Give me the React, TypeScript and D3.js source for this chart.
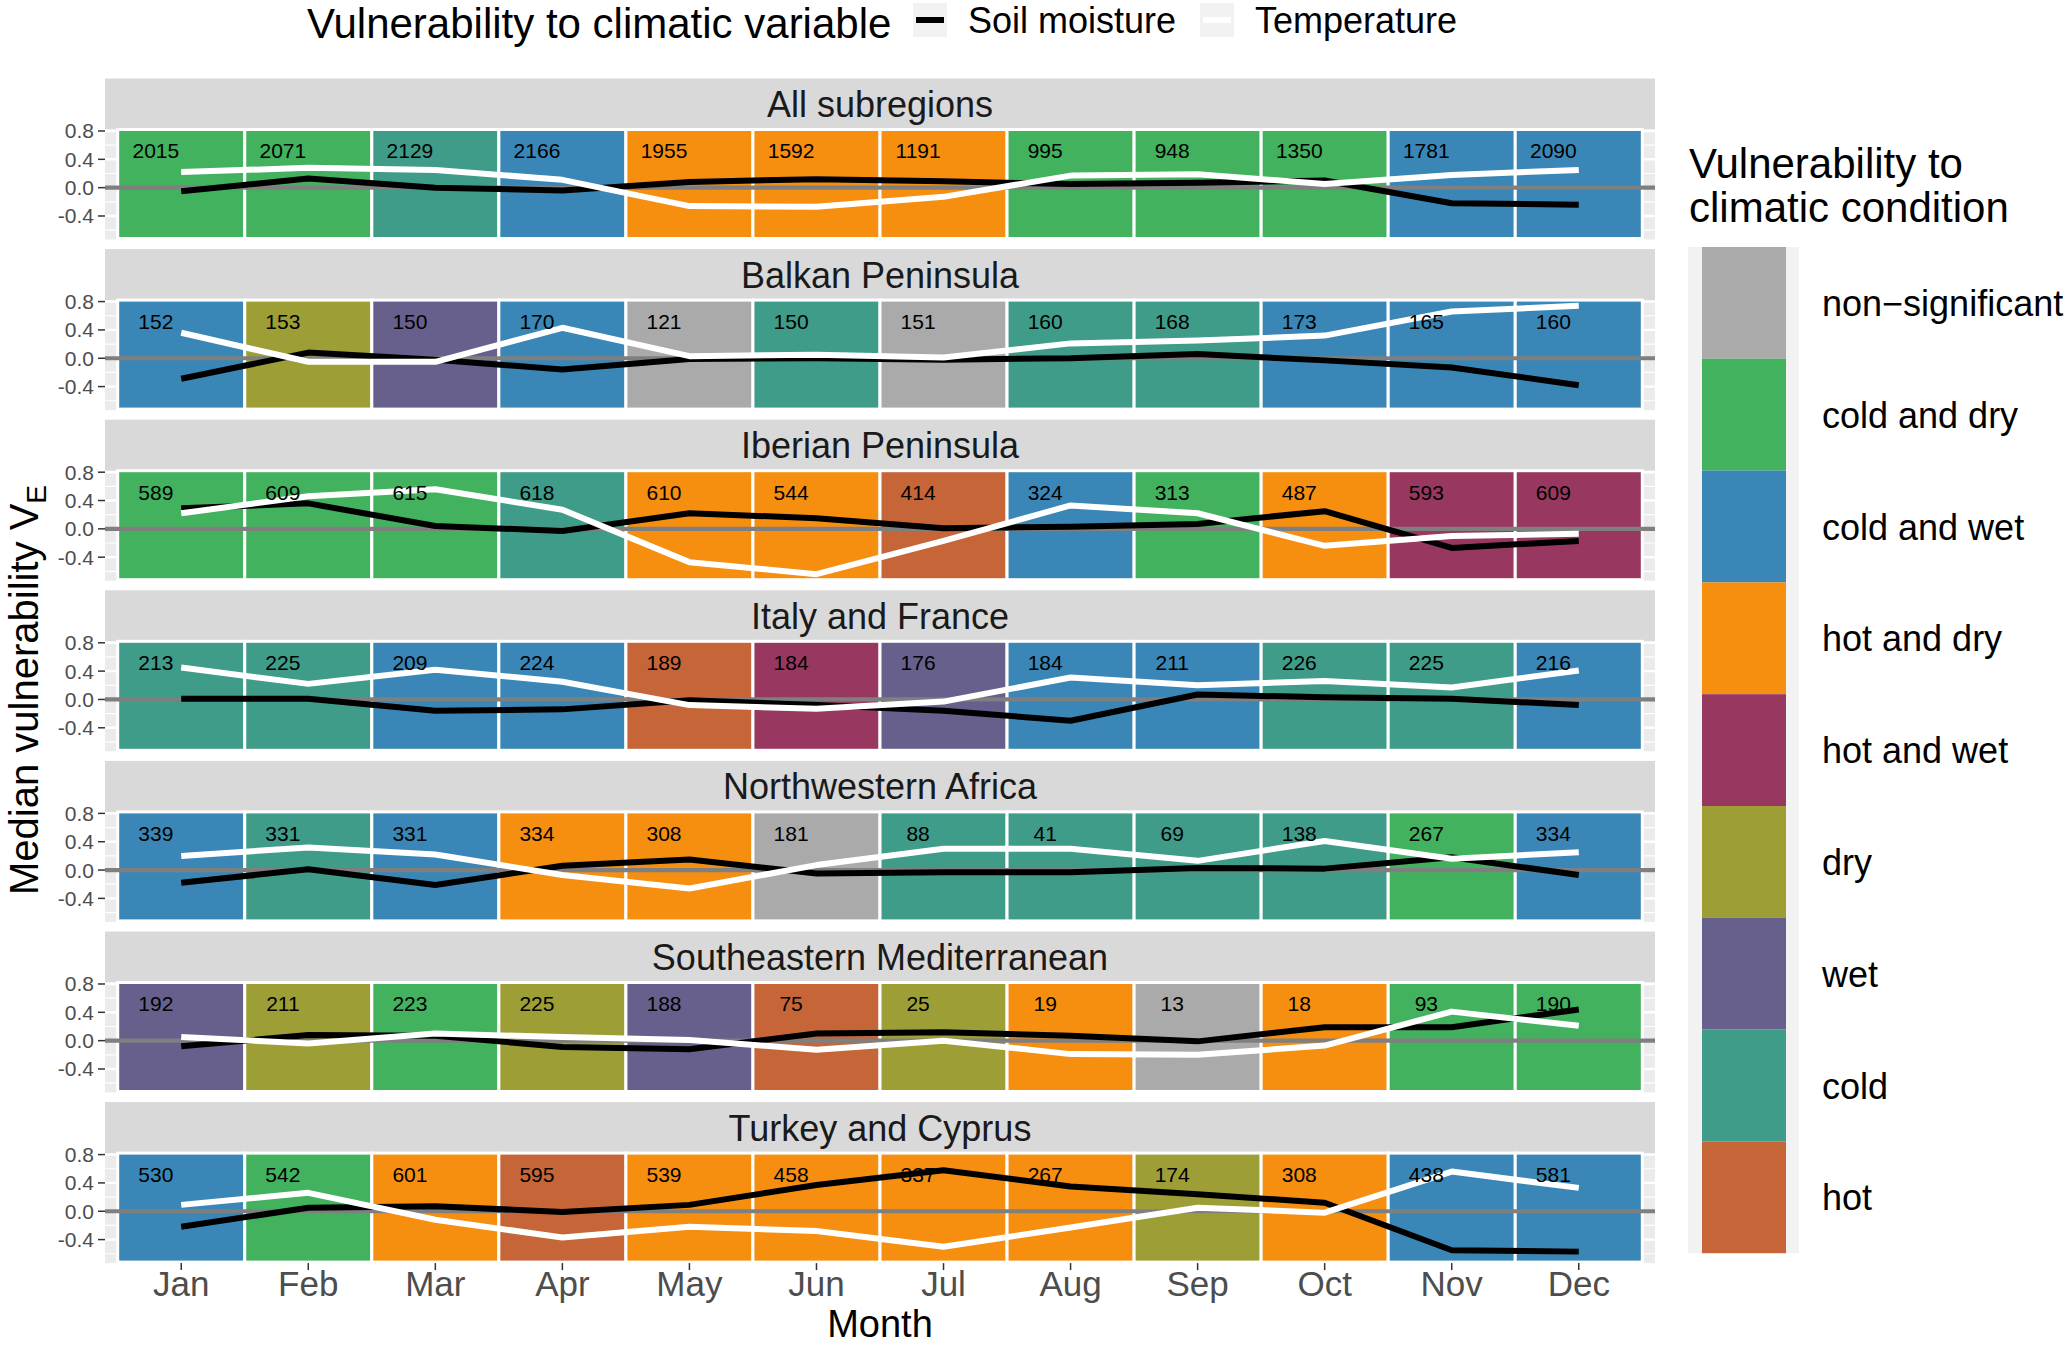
import * as d3 from "d3"

// Months and regions
const months = ["Jan", "Feb", "Mar", "Apr", "May", "Jun", "Jul", "Aug", "Sep", "Oct", "Nov", "Dec"]
const regions = [
  "All subregions",
  "Balkan Peninsula",
  "Iberian Peninsula",
  "Italy and France",
  "Northwestern Africa",
  "Southeastern Mediterranean",
  "Turkey and Cyprus",
]

// Climatic condition categories (legend order)
const conditionCodes = ["NS", "CD", "CW", "HD", "HW", "D", "W", "C", "H"]
const conditionLabels = [
  "non\u2212significant",
  "cold and dry",
  "cold and wet",
  "hot and dry",
  "hot and wet",
  "dry",
  "wet",
  "cold",
  "hot",
]
const conditionColors = ["#aaaaaa", "#43b25e", "#3a87b7", "#f68e10", "#983861", "#9d9f36", "#67608c", "#3f9c89", "#c66537"]

// Dominant condition per month, one row per region
const tileConditions = [
  ["CD", "CD", "C", "CW", "HD", "HD", "HD", "CD", "CD", "CD", "CW", "CW"],
  ["CW", "D", "W", "CW", "NS", "C", "NS", "C", "C", "CW", "CW", "CW"],
  ["CD", "CD", "CD", "C", "HD", "HD", "H", "CW", "CD", "HD", "HW", "HW"],
  ["C", "C", "CW", "CW", "H", "HW", "W", "CW", "CW", "C", "C", "CW"],
  ["CW", "C", "CW", "HD", "HD", "NS", "C", "C", "C", "C", "CD", "CW"],
  ["W", "D", "CD", "D", "W", "H", "D", "HD", "NS", "HD", "CD", "CD"],
  ["CW", "CD", "HD", "H", "HD", "HD", "HD", "HD", "D", "HD", "CW", "CW"],
]

// Number of cases per month, one row per region
const tileCounts = [
  [2015, 2071, 2129, 2166, 1955, 1592, 1191, 995, 948, 1350, 1781, 2090],
  [152, 153, 150, 170, 121, 150, 151, 160, 168, 173, 165, 160],
  [589, 609, 615, 618, 610, 544, 414, 324, 313, 487, 593, 609],
  [213, 225, 209, 224, 189, 184, 176, 184, 211, 226, 225, 216],
  [339, 331, 331, 334, 308, 181, 88, 41, 69, 138, 267, 334],
  [192, 211, 223, 225, 188, 75, 25, 19, 13, 18, 93, 190],
  [530, 542, 601, 595, 539, 458, 337, 267, 174, 308, 438, 581],
]

// Median vulnerability to soil moisture
const soilMoisture = [
  [-0.05, 0.13, 0.0, -0.04, 0.08, 0.12, 0.09, 0.05, 0.07, 0.1, -0.22, -0.24],
  [-0.29, 0.08, -0.02, -0.16, -0.01, 0.0, -0.02, 0.0, 0.06, -0.03, -0.13, -0.38],
  [0.29, 0.36, 0.04, -0.03, 0.22, 0.15, 0.01, 0.03, 0.07, 0.25, -0.27, -0.17],
  [0.01, 0.01, -0.16, -0.14, -0.01, -0.08, -0.16, -0.3, 0.07, 0.03, 0.01, -0.08],
  [-0.18, 0.01, -0.21, 0.06, 0.15, -0.05, -0.03, -0.03, 0.03, 0.02, 0.18, -0.07],
  [-0.08, 0.08, 0.07, -0.09, -0.12, 0.1, 0.12, 0.07, -0.01, 0.19, 0.19, 0.44],
  [-0.22, 0.05, 0.07, -0.01, 0.09, 0.37, 0.58, 0.35, 0.24, 0.12, -0.55, -0.57],
]

// Median vulnerability to temperature
const temperature = [
  [0.22, 0.28, 0.25, 0.11, -0.26, -0.27, -0.13, 0.17, 0.19, 0.05, 0.18, 0.25],
  [0.36, -0.05, -0.05, 0.43, 0.03, 0.05, 0.01, 0.21, 0.25, 0.32, 0.66, 0.74],
  [0.22, 0.46, 0.56, 0.27, -0.47, -0.64, -0.17, 0.33, 0.22, -0.24, -0.1, -0.07],
  [0.45, 0.22, 0.42, 0.25, -0.08, -0.13, -0.03, 0.31, 0.2, 0.26, 0.17, 0.41],
  [0.2, 0.32, 0.22, -0.07, -0.26, 0.07, 0.3, 0.3, 0.13, 0.41, 0.16, 0.25],
  [0.05, -0.04, 0.1, 0.05, 0.01, -0.13, 0.0, -0.19, -0.2, -0.07, 0.41, 0.21],
  [0.09, 0.26, -0.12, -0.37, -0.22, -0.28, -0.5, -0.23, 0.05, -0.02, 0.56, 0.33],
]

const yTicks = [-0.4, 0, 0.4, 0.8]
const yMinor = [-0.6, -0.2, 0.2, 0.6]

const W = 2067
const H = 1346
const FONT = "'Liberation Sans', Arial, Helvetica, sans-serif"

const PANEL_LEFT = 105
const PANEL_RIGHT = 1655
const STRIP_TOP = 78.5
const STRIP_H = 51
const PANEL_H = 110
const PERIOD = 170.6

function Panel({ index, x }: { index: number; x: d3.ScaleLinear<number, number> }) {
  const top = STRIP_TOP + index * PERIOD
  const panelTop = top + STRIP_H
  const panelBottom = panelTop + PANEL_H
  const y = d3.scaleLinear().domain([-0.732, 0.821]).range([panelBottom, panelTop])
  const color = d3.scaleOrdinal<string, string>().domain(conditionCodes).range(conditionColors)
  const line = d3
    .line<number>()
    .x((_, j) => x(j + 1))
    .y((d) => y(d))
  const isLast = index === regions.length - 1

  return (
    <g>
      {/* strip */}
      <rect x={PANEL_LEFT} y={top} width={PANEL_RIGHT - PANEL_LEFT} height={STRIP_H} fill="#d9d9d9" />
      <text
        x={(PANEL_LEFT + PANEL_RIGHT) / 2}
        y={top + STRIP_H / 2 + 13}
        textAnchor="middle"
        fontSize={36}
        fill="#1a1a1a"
      >
        {regions[index]}
      </text>

      {/* panel background + grid */}
      <rect x={PANEL_LEFT} y={panelTop} width={PANEL_RIGHT - PANEL_LEFT} height={PANEL_H} fill="#ebebeb" />
      {yMinor.map((v) => (
        <line key={"mi" + v} x1={PANEL_LEFT} x2={PANEL_RIGHT} y1={y(v)} y2={y(v)} stroke="#fff" strokeWidth={1.2} />
      ))}
      {yTicks.map((v) => (
        <line key={"ma" + v} x1={PANEL_LEFT} x2={PANEL_RIGHT} y1={y(v)} y2={y(v)} stroke="#fff" strokeWidth={2.4} />
      ))}

      {/* condition tiles */}
      {months.map((m, j) => (
        <rect
          key={m}
          x={x(j + 0.5)}
          y={panelTop}
          width={x(j + 1.5) - x(j + 0.5)}
          height={PANEL_H - 1}
          fill={color(tileConditions[index][j])}
          stroke="#fff"
          strokeWidth={3}
        />
      ))}

      {/* zero line */}
      <line x1={PANEL_LEFT} x2={PANEL_RIGHT} y1={y(0)} y2={y(0)} stroke="#7f7f7f" strokeWidth={4.2} />

      {/* vulnerability lines */}
      <path d={line(soilMoisture[index]) ?? ""} fill="none" stroke="#000" strokeWidth={6} strokeLinejoin="round" />
      <path d={line(temperature[index]) ?? ""} fill="none" stroke="#fff" strokeWidth={6} strokeLinejoin="round" />

      {/* counts */}
      {tileCounts[index].map((c, j) => (
        <text key={"c" + j} x={x(j + 1 - 0.2)} y={y(0.52) + 7.5} textAnchor="middle" fontSize={21} fill="#000">
          {c}
        </text>
      ))}

      {/* y axis */}
      {yTicks.map((v) => (
        <g key={"t" + v}>
          <line x1={PANEL_LEFT - 7} x2={PANEL_LEFT} y1={y(v)} y2={y(v)} stroke="#333" strokeWidth={1.5} />
          <text x={PANEL_LEFT - 11} y={y(v) + 7.5} textAnchor="end" fontSize={21} fill="#4d4d4d">
            {d3.format(".1f")(v).replace("\u2212", "-")}
          </text>
        </g>
      ))}

      {/* x axis under last panel */}
      {isLast &&
        months.map((m, j) => (
          <g key={"x" + m}>
            <line x1={x(j + 1)} x2={x(j + 1)} y1={panelBottom} y2={panelBottom + 7} stroke="#333" strokeWidth={1.5} />
            <text x={x(j + 1)} y={panelBottom + 33} textAnchor="middle" fontSize={35} fill="#4d4d4d">
              {m}
            </text>
          </g>
        ))}
    </g>
  )
}

export default function App() {
  const x = d3.scaleLinear().domain([0.4, 12.6]).range([PANEL_LEFT, PANEL_RIGHT])
  const keyH = 111.8
  const keyTop = 247

  return (
    <svg
      width={W}
      height={H}
      style={{ position: "absolute", left: 0, top: 0, background: "#fff" }}
      fontFamily={FONT}
    >
      <rect width={W} height={H} fill="#fff" />

      {/* top legend */}
      <text x={307} y={38} fontSize={42} fill="#000">
        Vulnerability to climatic variable
      </text>
      <rect x={913} y={3} width={34} height={34} fill="#f2f2f2" />
      <line x1={916} x2={944} y1={20} y2={20} stroke="#000" strokeWidth={6} />
      <text x={968} y={33} fontSize={36} fill="#000">
        Soil moisture
      </text>
      <rect x={1200} y={3} width={34} height={34} fill="#f2f2f2" />
      <line x1={1203} x2={1231} y1={20} y2={20} stroke="#fff" strokeWidth={6} />
      <text x={1255} y={33} fontSize={36} fill="#000">
        Temperature
      </text>

      {regions.map((r, i) => (
        <Panel key={r} index={i} x={x} />
      ))}

      {/* axis titles */}
      <text x={(PANEL_LEFT + PANEL_RIGHT) / 2} y={1337} textAnchor="middle" fontSize={38} fill="#000">
        Month
      </text>
      <text transform="translate(38, 690) rotate(-90)" textAnchor="middle" fontSize={40} fill="#000">
        Median vulnerability V
        <tspan fontSize={28} dy={8}>
          E
        </tspan>
      </text>

      {/* right legend */}
      <text x={1689} y={178} fontSize={42} fill="#000">
        Vulnerability to
      </text>
      <text x={1689} y={222} fontSize={42} fill="#000">
        climatic condition
      </text>
      <rect x={1688} y={keyTop} width={111} height={keyH * conditionCodes.length} fill="#f2f2f2" />
      {conditionCodes.map((c, k) => (
        <g key={c}>
          <rect x={1702} y={keyTop + k * keyH} width={84} height={keyH} fill={conditionColors[k]} />
          <text x={1822} y={keyTop + k * keyH + keyH / 2 + 13} fontSize={36} fill="#000">
            {conditionLabels[k]}
          </text>
        </g>
      ))}
    </svg>
  )
}
